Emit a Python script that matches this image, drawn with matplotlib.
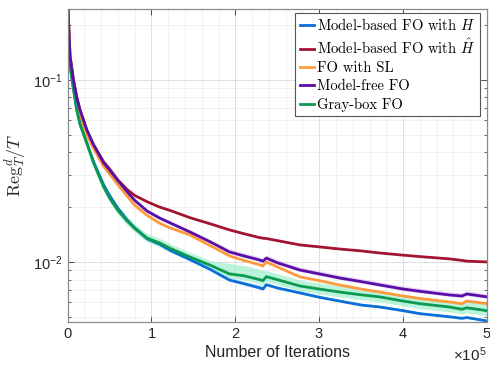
import numpy as np
import matplotlib
matplotlib.use('Agg')
import matplotlib.pyplot as plt
from matplotlib.ticker import ScalarFormatter, MultipleLocator, LogLocator, NullFormatter
from matplotlib.font_manager import FontProperties

plt.rcParams['font.family'] = ['Liberation Sans', 'DejaVu Sans']
plt.rcParams['mathtext.fontset'] = 'custom'
plt.rcParams['mathtext.rm'] = 'Liberation Sans'
plt.rcParams['mathtext.it'] = 'Liberation Sans:italic'
plt.rcParams['mathtext.bf'] = 'Liberation Sans:bold'

# Iterations (in units of 1e5)
iters = [0, 0.01, 0.03, 0.07, 0.11, 0.15, 0.23, 0.31, 0.43, 0.5, 0.6, 0.71, 0.8, 0.95,
         1.1, 1.22, 1.46, 1.7, 1.93, 2.1, 2.29, 2.33, 2.37, 2.5, 2.77, 3.0, 3.24, 3.5,
         3.72, 4.0, 4.2, 4.55, 4.7, 4.76, 5.0]

model_based_H = [0.24, 0.16, 0.12, 0.090, 0.0684, 0.057, 0.045, 0.0355, 0.0265, 0.0232,
                 0.0197, 0.0170, 0.0154, 0.0134, 0.0125, 0.0116, 0.0103, 0.0091, 0.00795,
                 0.0076, 0.0072, 0.0071, 0.0075, 0.0072, 0.00676, 0.0064, 0.0061, 0.0058,
                 0.00566, 0.0054, 0.0052, 0.0050, 0.0049, 0.00495, 0.00474]
model_based_Hhat = [0.6, 0.22, 0.135, 0.10, 0.080, 0.068, 0.053, 0.044, 0.0355, 0.0325,
                    0.0282, 0.0250, 0.0232, 0.0214, 0.0200, 0.0192, 0.0175, 0.0162, 0.0150,
                    0.0143, 0.0136, 0.0135, 0.01345, 0.0131, 0.0124, 0.0121, 0.01178, 0.0115,
                    0.0112, 0.0109, 0.0107, 0.0104, 0.0102, 0.0101, 0.0100]
fo_sl = [0.6, 0.21, 0.13, 0.095, 0.075, 0.064, 0.050, 0.042, 0.0335, 0.0305,
         0.0265, 0.0230, 0.0205, 0.0180, 0.0163, 0.0154, 0.01406, 0.0123, 0.0108,
         0.0102, 0.00964, 0.0095, 0.0100, 0.0094, 0.00828, 0.0079, 0.00748, 0.0071,
         0.00684, 0.0065, 0.0063, 0.00603, 0.0059, 0.0061, 0.0059]
model_free = [0.6, 0.22, 0.135, 0.10, 0.080, 0.068, 0.053, 0.044, 0.035, 0.032,
              0.0280, 0.0243, 0.0218, 0.0190, 0.0174, 0.0164, 0.0146, 0.0129, 0.01135,
              0.0108, 0.01025, 0.0101, 0.0105, 0.0099, 0.00903, 0.0086, 0.00817, 0.0078,
              0.00748, 0.0071, 0.0069, 0.00659, 0.0065, 0.00667, 0.00643]
gray_box = [0.24, 0.16, 0.12, 0.090, 0.0684, 0.057, 0.045, 0.035, 0.0258, 0.0225,
            0.0192, 0.0168, 0.0153, 0.0135, 0.0127, 0.0119, 0.01064, 0.0096, 0.0086,
            0.0084, 0.0080, 0.0079, 0.0083, 0.0080, 0.00738, 0.0071, 0.00684, 0.0066,
            0.00643, 0.0061, 0.0059, 0.00566, 0.0055, 0.0056, 0.0054]

# Shaded band bounds (read as relative spread, percent)
gray_box_up = [0, 0, 0, 0, 0, 0, 2, 3, 4, 5, 6, 6, 6, 6, 6, 6, 6, 6, 14,
               14, 14, 14, 8, 8, 8, 8, 8, 8, 8, 8, 8, 8, 8, 8, 8]
gray_box_dn = [0, 0, 0, 0, 0, 0, 2, 3, 4, 5, 5, 5, 5, 5, 5, 5, 5, 5, 5,
               5, 5, 5, 6, 6, 6, 6, 6, 6, 6, 6, 6, 6, 6, 6, 6]
model_free_up = [0, 0, 0, 0, 0, 0, 0, 1, 2, 3, 3, 3, 3, 3, 3, 3, 3, 3, 4,
                 4, 4, 4, 4, 4, 4, 4, 4, 4, 4, 4, 4, 4, 4, 4, 4]
model_based_H_up = [0, 0, 0, 0, 0, 0, 2, 3, 4, 3, 2, 2, 2, 2, 2, 2, 2, 2, 3,
                    3, 4, 4, 2, 2, 2, 2, 2, 2, 2, 2, 2, 2, 2, 2, 2]

x = np.array(iters) * 1e5

fig = plt.figure(figsize=(4.9, 3.67), dpi=100)
ax = fig.add_axes([0.1378, 0.1226, 0.856, 0.853])

c_blue = '#0a6fd8'
c_red = '#a2142f'
c_orange = '#ff9a3c'
c_purple = '#5b0ea6'
c_green = '#0b9a4f'

# Bands
g = np.array(gray_box)
ax.fill_between(x, g * (1 - np.array(gray_box_dn) / 100), g * (1 + np.array(gray_box_up) / 100),
                color='#8fecc4', alpha=0.6, lw=0)
p = np.array(model_free)
ax.fill_between(x, p * (1 - np.array(model_free_up) / 200), p * (1 + np.array(model_free_up) / 100),
                color='#cdb2f2', alpha=0.5, lw=0)
b = np.array(model_based_H)
ax.fill_between(x, b, b * (1 + np.array(model_based_H_up) / 100),
                color='#7fc4f0', alpha=0.6, lw=0)

lw = 2.0
l1, = ax.plot(x, model_based_H, color=c_blue, lw=lw, label=r'Model-based FO with $H$')
l2, = ax.plot(x, model_based_Hhat, color=c_red, lw=lw, label=r'Model-based FO with $\hat{H}$')
l3, = ax.plot(x, fo_sl, color=c_orange, lw=lw, label='FO with SL')
l5, = ax.plot(x, gray_box, color=c_green, lw=lw, label='Gray-box FO')
l4, = ax.plot(x, model_free, color=c_purple, lw=lw, label='Model-free FO')

ax.set_yscale('log')
ax.set_xlim(0, 5e5)
ax.set_ylim(0.00468, 0.245)

ax.xaxis.set_major_locator(MultipleLocator(1e5))
ax.xaxis.set_minor_locator(MultipleLocator(2e4))
fmt = ScalarFormatter(useMathText=True)
fmt.set_powerlimits((0, 0))
ax.xaxis.set_major_formatter(fmt)
ax.yaxis.set_major_locator(LogLocator(base=10, numticks=10))
ax.yaxis.set_minor_locator(LogLocator(base=10, subs=np.arange(2, 10), numticks=20))
ax.yaxis.set_minor_formatter(NullFormatter())

ax.grid(True, which='major', color='#dedede', lw=0.7)
ax.grid(True, which='minor', color='#ececec', lw=0.5)
ax.set_axisbelow(True)

ax.tick_params(which='both', direction='in', top=True, right=True, colors='#333333',
               labelsize=10.5, labelcolor='#262626')
ax.tick_params(which='major', length=4, width=0.6)
ax.tick_params(axis='y', which='minor', length=2.5, width=0.5)
ax.tick_params(axis='x', which='minor', length=0)
ax.xaxis.get_offset_text().set_fontsize(11)

for s in ax.spines.values():
    s.set_color('#8a8a8a')
    s.set_linewidth(0.9)

ax.set_xlabel('Number of Iterations', fontsize=11.5, color='#262626', labelpad=3)
ax.set_ylabel(r'$\mathrm{Reg}_T^d/T$', fontsize=13, color='#262626',
              math_fontfamily='cm', labelpad=4)

leg_font = FontProperties(family='cmr10', size=10.5, math_fontfamily='cm')
leg = ax.legend(handles=[l1, l2, l3, l4, l5], loc='upper right', prop=leg_font,
                bbox_to_anchor=(0.983, 0.987), fancybox=False, framealpha=1,
                edgecolor='#555555', handlelength=1.0, handletextpad=0.2,
                labelspacing=0.3, borderpad=0.3, borderaxespad=0)
leg.get_frame().set_linewidth(0.8)

fig.savefig('out.png', dpi=100)
